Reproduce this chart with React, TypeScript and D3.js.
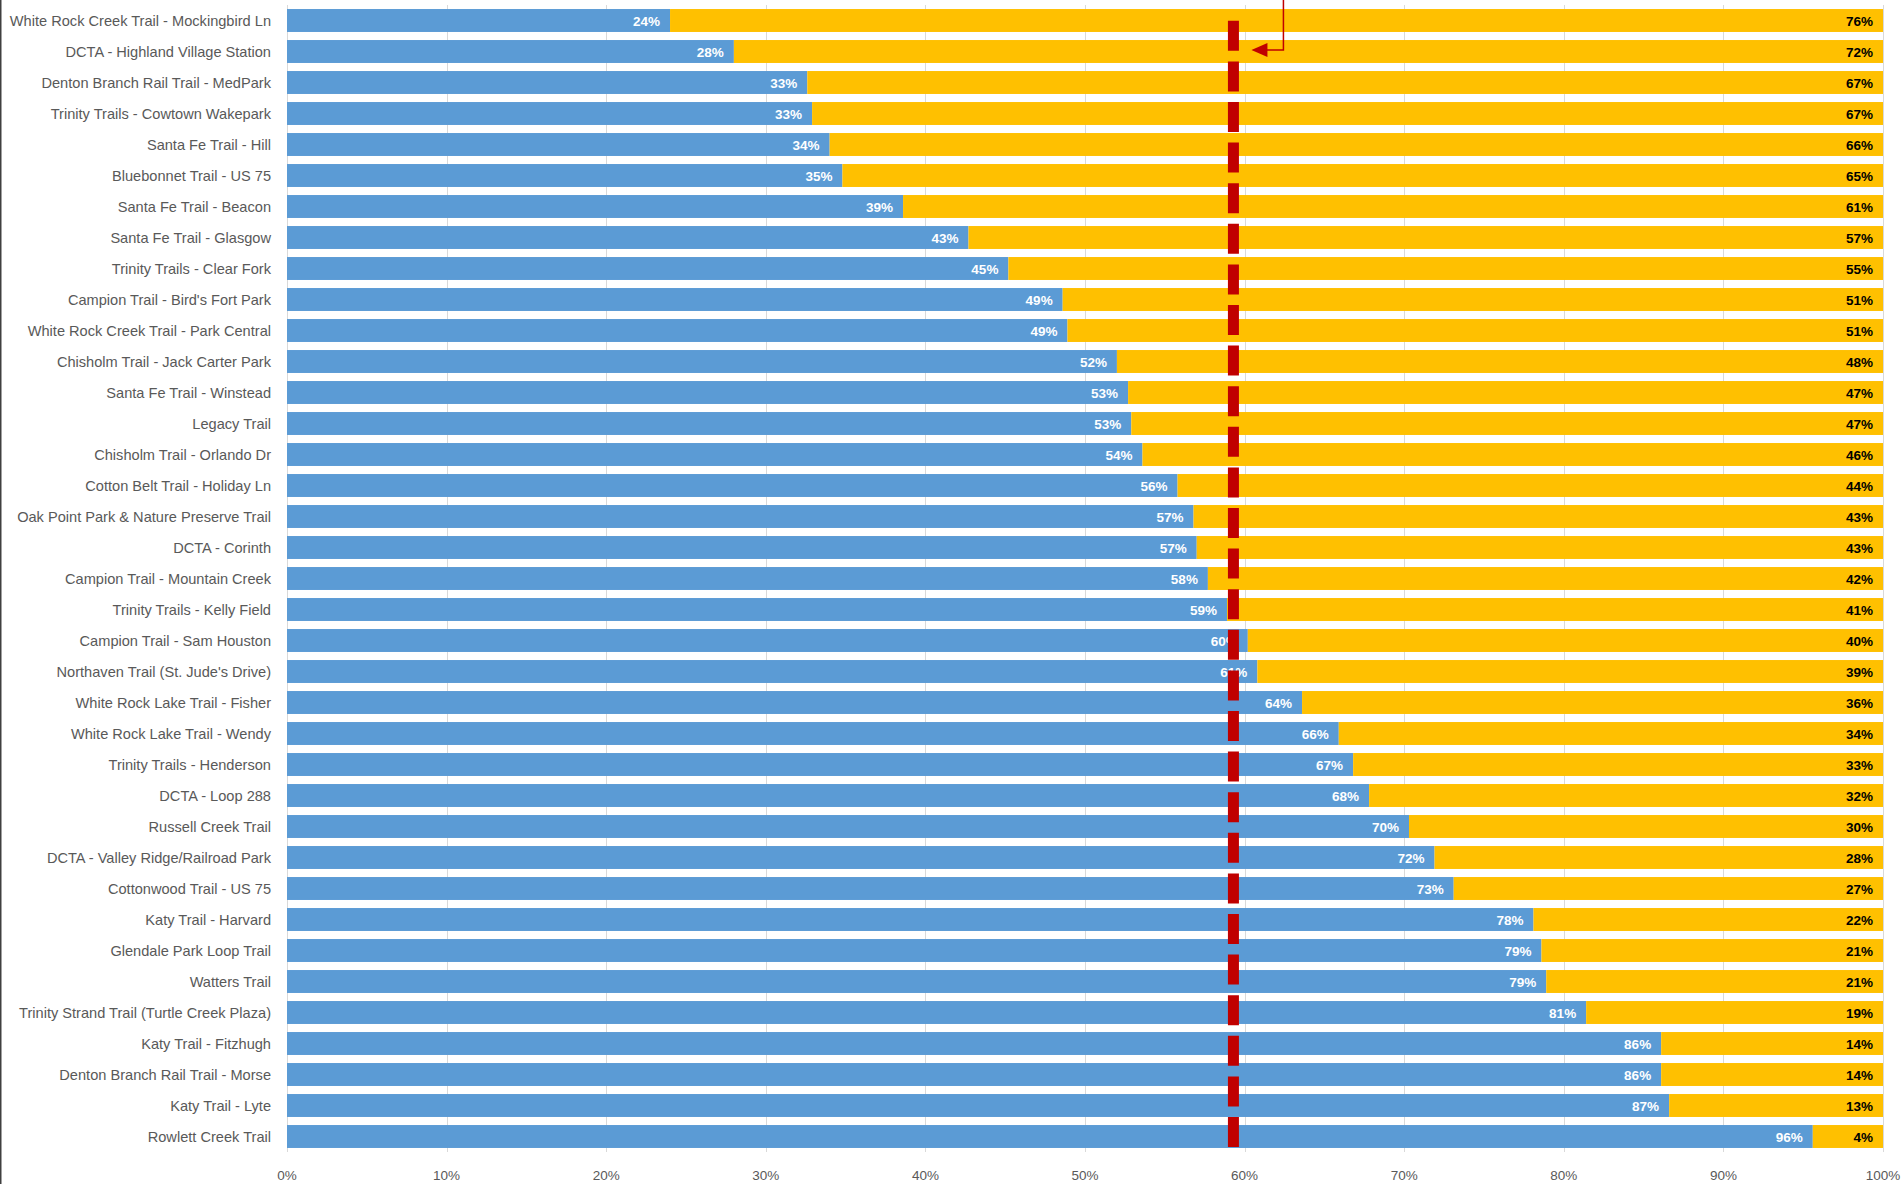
import React, { useEffect, useRef } from "react";
import * as d3 from "d3";

// trail counters, top to bottom
const trails = [
  "White Rock Creek Trail - Mockingbird Ln",
  "DCTA - Highland Village Station",
  "Denton Branch Rail Trail - MedPark",
  "Trinity Trails - Cowtown Wakepark",
  "Santa Fe Trail - Hill",
  "Bluebonnet Trail - US 75",
  "Santa Fe Trail - Beacon",
  "Santa Fe Trail - Glasgow",
  "Trinity Trails - Clear Fork",
  "Campion Trail - Bird's Fort Park",
  "White Rock Creek Trail - Park Central",
  "Chisholm Trail - Jack Carter Park",
  "Santa Fe Trail - Winstead",
  "Legacy Trail",
  "Chisholm Trail - Orlando Dr",
  "Cotton Belt Trail - Holiday Ln",
  "Oak Point Park & Nature Preserve Trail",
  "DCTA - Corinth",
  "Campion Trail - Mountain Creek",
  "Trinity Trails - Kelly Field",
  "Campion Trail - Sam Houston",
  "Northaven Trail (St. Jude's Drive)",
  "White Rock Lake Trail - Fisher",
  "White Rock Lake Trail - Wendy",
  "Trinity Trails - Henderson",
  "DCTA - Loop 288",
  "Russell Creek Trail",
  "DCTA - Valley Ridge/Railroad Park",
  "Cottonwood Trail - US 75",
  "Katy Trail - Harvard",
  "Glendale Park Loop Trail",
  "Watters Trail",
  "Trinity Strand Trail (Turtle Creek Plaza)",
  "Katy Trail - Fitzhugh",
  "Denton Branch Rail Trail - Morse",
  "Katy Trail - Lyte",
  "Rowlett Creek Trail",
];

// blue series share
const blueShare = [
  0.24, 0.28, 0.326, 0.329, 0.34, 0.348, 0.386, 0.427, 0.452, 0.486, 0.489,
  0.52, 0.527, 0.529, 0.536, 0.558, 0.568, 0.57, 0.577, 0.589, 0.602, 0.608,
  0.636, 0.659, 0.668, 0.678, 0.703, 0.719, 0.731, 0.781, 0.786, 0.789, 0.814,
  0.861, 0.861, 0.866, 0.956,
];

// yellow series share
const yellowShare = [
  0.76, 0.72, 0.674, 0.671, 0.66, 0.652, 0.614, 0.573, 0.548, 0.514, 0.511,
  0.48, 0.473, 0.471, 0.464, 0.442, 0.432, 0.43, 0.423, 0.411, 0.398, 0.392,
  0.364, 0.341, 0.332, 0.322, 0.297, 0.281, 0.269, 0.219, 0.214, 0.211, 0.186,
  0.139, 0.139, 0.134, 0.044,
];

const xTicks = [0, 0.1, 0.2, 0.3, 0.4, 0.5, 0.6, 0.7, 0.8, 0.9, 1];

// red dashed reference line
const benchmark = 0.593;

const W = 1902;
const H = 1184;
const FONT = "'Liberation Sans', Arial, sans-serif";

const App = () => {
  const chart = useRef<SVGSVGElement>(null);

  useEffect(() => {
    const svg = d3.select(chart.current);
    svg.selectAll("*").remove();

    const x = d3.scaleLinear().domain([0, 1]).range([287, 1883]);
    const y = d3
      .scaleBand<string>()
      .domain(trails)
      .range([5, 1152])
      .paddingInner(0.26)
      .paddingOuter(0.13);

    const rows = trails.map((name, i) => ({
      name,
      blue: blueShare[i],
      yellow: yellowShare[i],
    }));
    const pct = d3.format(".0%");

    // left frame edge
    svg
      .append("line")
      .attr("x1", 0.75)
      .attr("x2", 0.75)
      .attr("y1", 0)
      .attr("y2", H)
      .attr("stroke", "#404040")
      .attr("stroke-width", 1.5);

    // gridlines
    svg
      .append("g")
      .selectAll("line")
      .data(xTicks)
      .join("line")
      .attr("x1", (d) => Math.round(x(d)) + 0.5)
      .attr("x2", (d) => Math.round(x(d)) + 0.5)
      .attr("y1", y.range()[0])
      .attr("y2", y.range()[1])
      .attr("stroke", "#d9d9d9")
      .attr("stroke-width", 1);

    // tick labels
    svg
      .append("g")
      .selectAll("text")
      .data(xTicks)
      .join("text")
      .attr("x", (d) => x(d))
      .attr("y", 1175)
      .attr("text-anchor", "middle")
      .attr("dominant-baseline", "central")
      .attr("font-family", FONT)
      .attr("font-size", 13.5)
      .attr("fill", "#595959")
      .text((d) => pct(d));

    // category labels
    svg
      .append("g")
      .selectAll("text")
      .data(rows)
      .join("text")
      .attr("x", x(0) - 16)
      .attr("y", (d) => y(d.name)! + y.bandwidth() / 2)
      .attr("text-anchor", "end")
      .attr("dominant-baseline", "central")
      .attr("font-family", FONT)
      .attr("font-size", 14.6)
      .attr("fill", "#595959")
      .text((d) => d.name);

    // blue bars
    svg
      .append("g")
      .selectAll("rect")
      .data(rows)
      .join("rect")
      .attr("x", x(0))
      .attr("y", (d) => y(d.name)!)
      .attr("width", (d) => x(d.blue) - x(0))
      .attr("height", y.bandwidth())
      .attr("fill", "#5b9bd5");

    // yellow bars stacked after blue
    svg
      .append("g")
      .selectAll("rect")
      .data(rows)
      .join("rect")
      .attr("x", (d) => x(d.blue))
      .attr("y", (d) => y(d.name)!)
      .attr("width", (d) => x(d.blue + d.yellow) - x(d.blue))
      .attr("height", y.bandwidth())
      .attr("fill", "#ffc000");

    // labels inside end of each segment
    svg
      .append("g")
      .selectAll("text")
      .data(rows)
      .join("text")
      .attr("x", (d) => x(d.blue) - 10)
      .attr("y", (d) => y(d.name)! + y.bandwidth() / 2 + 1)
      .attr("text-anchor", "end")
      .attr("dominant-baseline", "central")
      .attr("font-family", FONT)
      .attr("font-size", 13.5)
      .attr("font-weight", "bold")
      .attr("fill", "#ffffff")
      .text((d) => pct(d.blue));

    svg
      .append("g")
      .selectAll("text")
      .data(rows)
      .join("text")
      .attr("x", (d) => x(d.blue + d.yellow) - 10)
      .attr("y", (d) => y(d.name)! + y.bandwidth() / 2 + 1)
      .attr("text-anchor", "end")
      .attr("dominant-baseline", "central")
      .attr("font-family", FONT)
      .attr("font-size", 13.5)
      .attr("font-weight", "bold")
      .attr("fill", "#000000")
      .text((d) => pct(d.yellow));

    // benchmark line, drawn bottom-up so the dash pattern ends on the last bar
    const bx = x(benchmark);
    svg
      .append("line")
      .attr("x1", bx)
      .attr("x2", bx)
      .attr("y1", y.range()[1] - 5)
      .attr("y2", y.range()[0] + 13)
      .attr("stroke", "#c00000")
      .attr("stroke-width", 11)
      .attr("stroke-dasharray", "30 10.6");

    // callout arrow pointing at the line
    svg
      .append("polyline")
      .attr("points", `${bx + 50},0 ${bx + 50},50 ${bx + 30},50`)
      .attr("fill", "none")
      .attr("stroke", "#c00000")
      .attr("stroke-width", 1.5);
    svg
      .append("path")
      .attr("d", `M${bx + 18},50 L${bx + 34},43 L${bx + 34},57 Z`)
      .attr("fill", "#c00000");
  }, []);

  return (
    <svg
      ref={chart}
      width={W}
      height={H}
      style={{ position: "absolute", left: 0, top: 0, background: "#fff" }}
    ></svg>
  );
};

export default App;
